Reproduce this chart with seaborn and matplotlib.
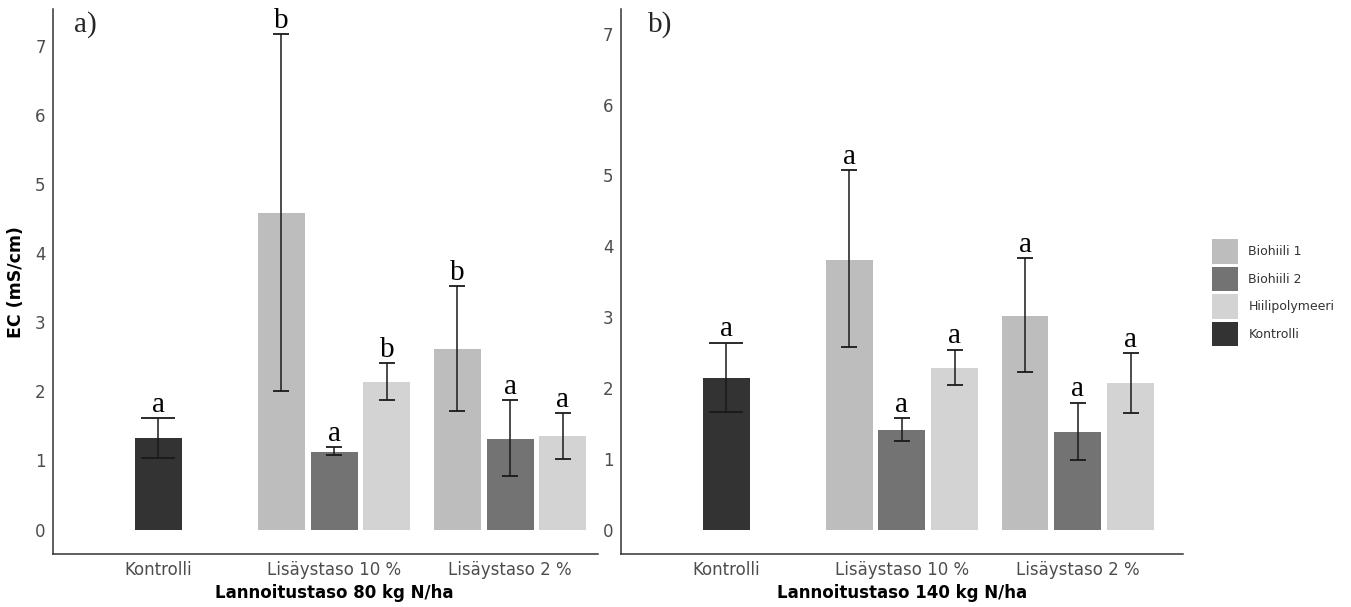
import matplotlib

matplotlib.use("Agg")
import matplotlib.pyplot as plt
from matplotlib.patches import Patch
import numpy as np
import pandas as pd
import seaborn as sns

# categories and treatments
groups = ["Kontrolli", "Lisäystaso 10 %", "Lisäystaso 2 %"]
treatments = ["Biohiili 1", "Biohiili 2", "Hiilipolymeeri", "Kontrolli"]
colors = ["#bdbdbd", "#737373", "#d3d3d3", "#333333"]

# bar order: Kontrolli, then B1/B2/H at 10 %, then B1/B2/H at 2 %
bar_group = [0, 1, 1, 1, 2, 2, 2]
bar_treat = ["Kontrolli", "Biohiili 1", "Biohiili 2", "Hiilipolymeeri",
             "Biohiili 1", "Biohiili 2", "Hiilipolymeeri"]

# panel a) 80 kg N/ha
mean_80 = [1.32, 4.58, 1.12, 2.14, 2.61, 1.31, 1.35]
low_80 = [1.03, 2.01, 1.08, 1.88, 1.71, 0.77, 1.02]
high_80 = [1.61, 7.18, 1.19, 2.41, 3.53, 1.87, 1.69]
letters_80 = ["a", "b", "a", "b", "b", "a", "a"]

# panel b) 140 kg N/ha
mean_140 = [2.14, 3.81, 1.40, 2.28, 3.02, 1.38, 2.07]
low_140 = [1.66, 2.58, 1.25, 2.04, 2.23, 0.98, 1.64]
high_140 = [2.64, 5.07, 1.57, 2.54, 3.83, 1.79, 2.49]
letters_140 = ["a", "a", "a", "a", "a", "a", "a"]

SLOT = 0.3  # dodge step inside a group
slot_offset = {"Kontrolli": 0.0, "Biohiili 1": -SLOT, "Biohiili 2": 0.0, "Hiilipolymeeri": SLOT}
SERIF = ["Liberation Serif", "DejaVu Serif"]


def make_frame(means, lows, highs, letters):
    pos = [g + slot_offset[t] for g, t in zip(bar_group, bar_treat)]
    return pd.DataFrame({
        "pos": np.round(pos, 3),
        "treatment": bar_treat,
        "mean": means,
        "low": lows,
        "high": highs,
        "letter": letters,
    })


def draw_panel(ax, df, xlim, ylim, xlabel, tag, tag_x):
    sns.barplot(
        data=df, x="pos", y="mean", hue="treatment", hue_order=treatments,
        palette=colors, native_scale=True, dodge=False, width=0.89,
        errorbar=None, saturation=1, linewidth=0, legend=False, ax=ax,
    )
    for is_ctrl, cap in [(True, 12.2), (False, 6.1)]:
        sub = df[(df["treatment"] == "Kontrolli") == is_ctrl]
        ax.errorbar(
            sub["pos"], sub["mean"],
            yerr=[sub["mean"] - sub["low"], sub["high"] - sub["mean"]],
            fmt="none", ecolor="#1a1a1a", elinewidth=1.1, capsize=cap, capthick=1.3,
        )
    for _, r in df.iterrows():
        ax.annotate(r["letter"], (r["pos"], r["high"]), xytext=(0, 4.5),
                    textcoords="offset points", ha="center", va="baseline",
                    family=SERIF, fontsize=21, color="black")
    ax.set_xlim(*xlim)
    ax.set_ylim(*ylim)
    ax.set_xticks(range(len(groups)))
    ax.set_xticklabels(groups)
    ax.set_yticks(range(8))
    ax.set_xlabel(xlabel, fontweight="bold", fontsize=12, color="black")
    ax.xaxis.set_label_coords((1.0 - xlim[0]) / (xlim[1] - xlim[0]), -0.054)
    ax.text(tag_x, 0.997, tag, transform=ax.transAxes, family=SERIF,
            fontsize=21, ha="left", va="top")
    for side in ["top", "right"]:
        ax.spines[side].set_visible(False)
    for side in ["left", "bottom"]:
        ax.spines[side].set_color("#333333")
        ax.spines[side].set_linewidth(1.1)
    ax.tick_params(axis="both", length=2.75, width=0.8, color="#333333",
                   labelcolor="#4d4d4d", labelsize=12, pad=2.3)
    ax.grid(False)


sns.set_style("white")
plt.rcParams["font.family"] = ["DejaVu Sans"]

fig = plt.figure(figsize=(13.51, 6.07), dpi=100)
ax_a = fig.add_axes([52.7 / 1351, 52.7 / 607, 545.3 / 1351, 545.3 / 607])
ax_b = fig.add_axes([620.5 / 1351, 52.7 / 607, 562.8 / 1351, 545.3 / 607])

draw_panel(ax_a, make_frame(mean_80, low_80, high_80, letters_80),
           (-0.6, 2.5), (-0.359, 7.539), "Lannoitustaso 80 kg N/ha", "a)", 0.039)
draw_panel(ax_b, make_frame(mean_140, low_140, high_140, letters_140),
           (-0.6, 2.6), (-0.35, 7.35), "Lannoitustaso 140 kg N/ha", "b)", 0.048)

ax_a.set_ylabel("EC (mS/cm)", fontweight="bold", fontsize=12.5, color="black", labelpad=7)
ax_b.set_ylabel("")

handles = [Patch(facecolor=c, edgecolor="none", label=t) for t, c in zip(treatments, colors)]
fig.legend(
    handles=handles, loc="upper left", bbox_to_anchor=(1212 / 1351, 1 - 239 / 607),
    frameon=False, fontsize=9, handlelength=2.05, handleheight=2.65,
    labelspacing=0.24, handletextpad=0.87, borderpad=0, borderaxespad=0,
    labelcolor="#333333",
)

fig.savefig("out.png", dpi=100)
